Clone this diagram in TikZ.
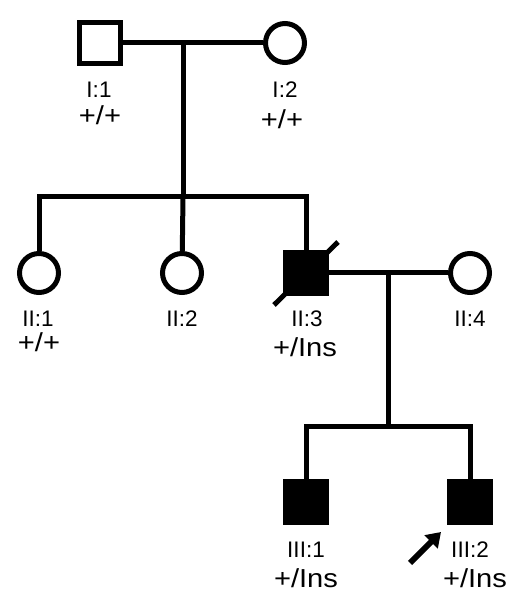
\documentclass[tikz,border=0pt]{standalone}
\usepackage{fontspec}
\setmainfont{Liberation Sans}
\newfontfamily\genofont[FakeStretch=1.12]{Liberation Sans}
\usetikzlibrary{arrows.meta}
\begin{document}
\begin{tikzpicture}[x=1pt,y=1pt,
  lw/.style={line width=5pt},
  male/.style={draw,lw,rectangle,minimum size=41pt,inner sep=0pt},
  female/.style={draw,lw,circle,minimum size=39pt,inner sep=0pt},
  aff/.style={fill=black},
  idlab/.style={font=\fontsize{22.5}{24}\selectfont,inner sep=0pt},
  geno/.style={font=\genofont\fontsize{26}{28}\selectfont,inner sep=0pt},
  link/.style={lw}]
\useasboundingbox (0,0) rectangle (518,600);
% generation I
\node[male] (I1) at (100,557) {};
\node[female] (I2) at (285,557) {};
\coordinate (m1) at (183,557);
\coordinate (s1) at (183,403);
\coordinate (sL) at (39,403);
\coordinate (sR) at (306,403);
% generation II
\node[female] (II1) at (39,327) {};
\node[female] (II2) at (182,327) {};
\node[male,aff] (II3) at (306,327) {};
\node[female] (II4) at (470,327) {};
\coordinate (m2) at (388,327);
\coordinate (s2) at (388,173);
\coordinate (tL) at (306,173);
\coordinate (tR) at (470,173);
% generation III
\node[male,aff] (III1) at (306,98) {};
\node[male,aff] (III2) at (470,98) {};
% connectors
\draw[link] (I1) -- (I2);
\draw[link] (m1) -- (s1);
\draw[link,line join=miter] (II1) -- (sL) -- (sR) -- (II3);
\draw[link] (s1) -- (II2);
\draw[link] (II3) -- (II4);
\draw[link] (m2) -- (s2);
\draw[link,line join=miter] (III1) -- (tL) -- (tR) -- (III2);
% deceased slash
\coordinate (d1) at (274,295);
\coordinate (d2) at (338,358);
\draw[line width=5pt] (d1) -- (d2);
% proband arrow
\coordinate (a1) at (410,37);
\coordinate (a2) at (441,68);
\draw[line width=6pt,-{Triangle[length=14pt,width=18pt]}] (a1) -- (a2);
% labels
\node[idlab] (lI1) at (99,510) {I:1};
\node[geno] (gI1) at (100,485) {+/+};
\node[idlab] (lI2) at (285,510) {I:2};
\node[geno] (gI2) at (282,481) {+/+};
\node[idlab] (lII1) at (38,281) {II:1};
\node[geno] (gII1) at (39,258) {+/+};
\node[idlab] (lII2) at (182,281) {II:2};
\node[idlab] (lII3) at (307,281) {II:3};
\node[geno] (gII3) at (305,253) {+/Ins};
\node[idlab] (lII4) at (470,281) {II:4};
\node[idlab] (lIII1) at (306,50) {III:1};
\node[geno] (gIII1) at (306,22) {+/Ins};
\node[idlab] (lIII2) at (470,50) {III:2};
\node[geno] (gIII2) at (475,22) {+/Ins};
\end{tikzpicture}
\end{document}
